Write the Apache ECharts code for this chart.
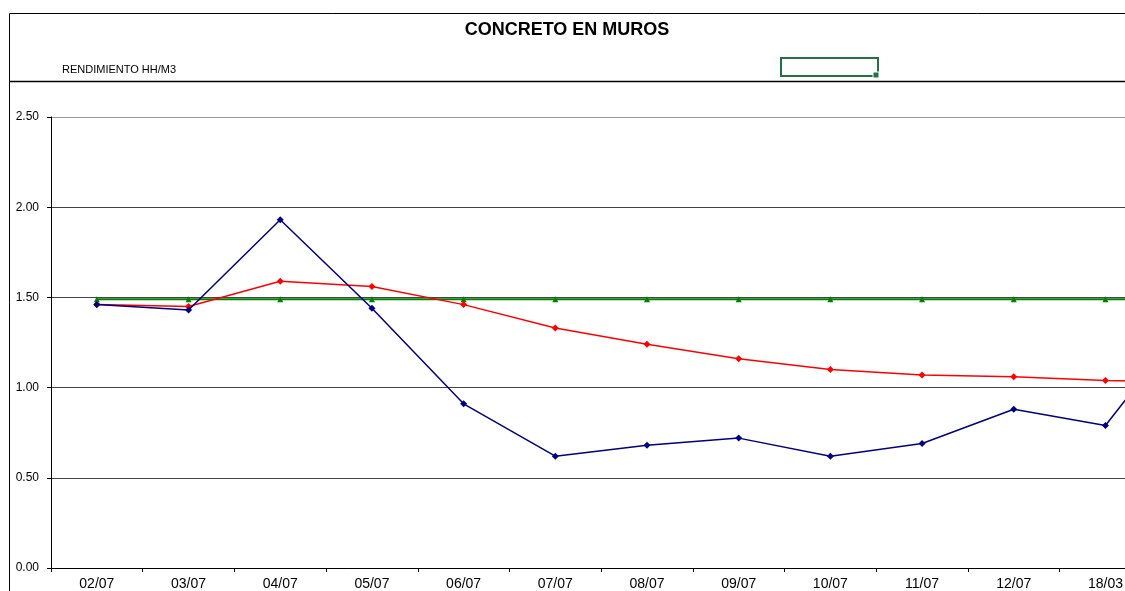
<!DOCTYPE html>
<html>
<head>
<meta charset="utf-8">
<title>CONCRETO EN MUROS</title>
<script src="https://cdn.jsdelivr.net/npm/echarts@6/dist/echarts.min.js"></script>
<style>
  html, body { margin: 0; padding: 0; background: #fff; overflow: hidden; }
  #chart { width: 1300px; height: 591px; }
</style>
</head>
<body>
<div id="chart"></div>
<script>
// Weekly dates shown along the category axis
const fechas = ['02/07', '03/07', '04/07', '05/07', '06/07', '07/07', '08/07', '09/07', '10/07', '11/07', '12/07', '18/03', '19/03'];
// Weekly performance HH/M3
const rendimientoSemanal = [1.46, 1.43, 1.93, 1.44, 0.91, 0.62, 0.68, 0.72, 0.62, 0.69, 0.88, 0.79, 1.44];
// Cumulative performance HH/M3
const rendimientoAcumulado = [1.46, 1.45, 1.59, 1.56, 1.46, 1.33, 1.24, 1.16, 1.10, 1.07, 1.06, 1.04, 1.03];
// Budgeted performance HH/M3
const rendimientoPresupuesto = [1.49, 1.49, 1.49, 1.49, 1.49, 1.49, 1.49, 1.49, 1.49, 1.49, 1.49, 1.49, 1.49];
// Value-axis ticks
const yMin = 0, yMax = 2.5, yStep = 0.5;

const chart = echarts.init(document.getElementById('chart'), null, { renderer: 'canvas' });

const font = 'Liberation Sans, Arial, sans-serif';

chart.setOption({
  animation: false,
  backgroundColor: '#ffffff',
  grid: { left: 51, top: 117, right: 57, bottom: 23, containLabel: false },
  graphic: [
    // sheet frame lines
    { type: 'line', shape: { x1: 9.5, y1: 13.5, x2: 1300, y2: 13.5 }, style: { stroke: '#000', lineWidth: 1 } },
    { type: 'line', shape: { x1: 9.5, y1: 13.5, x2: 9.5, y2: 591 }, style: { stroke: '#000', lineWidth: 1 } },
    { type: 'line', shape: { x1: 9.5, y1: 81.5, x2: 1300, y2: 81.5 }, style: { stroke: '#000', lineWidth: 1.5 } },
    // heading
    { type: 'text', style: { x: 567, y: 30, text: 'CONCRETO EN MUROS', font: 'bold 18px ' + font, fill: '#000', textAlign: 'center', textVerticalAlign: 'middle' } },
    { type: 'text', style: { x: 62, y: 70, text: 'RENDIMIENTO HH/M3', font: '11px ' + font, fill: '#000', textAlign: 'left', textVerticalAlign: 'middle' } },
    // active cell outline
    { type: 'rect', shape: { x: 781, y: 58, width: 97, height: 18 }, style: { fill: 'none', stroke: '#217346', lineWidth: 2 } },
    { type: 'rect', shape: { x: 873, y: 72, width: 6, height: 6 }, style: { fill: '#217346', stroke: '#fff', lineWidth: 1 } }
  ],
  xAxis: {
    type: 'category',
    data: fechas,
    boundaryGap: true,
    axisLine: { show: true, lineStyle: { color: '#000', width: 1 } },
    axisTick: { show: true, inside: false, length: 4, alignWithLabel: false, lineStyle: { color: '#000' } },
    axisLabel: { color: '#000', fontSize: 14, fontFamily: font, margin: 9, interval: 0 },
    splitLine: { show: false }
  },
  yAxis: {
    type: 'value',
    min: yMin,
    max: yMax,
    interval: yStep,
    axisLine: { show: true, lineStyle: { color: '#000', width: 1 } },
    axisTick: { show: true, inside: false, length: 4, lineStyle: { color: '#000' } },
    axisLabel: {
      color: '#000', fontSize: 12, fontFamily: font, margin: 12,
      formatter: v => v.toFixed(2)
    },
    splitLine: {
      show: true,
      lineStyle: { color: ['#444', '#444', '#444', '#444', '#444', '#999'], width: 1 }
    }
  },
  series: [
    {
      name: 'Presupuesto',
      type: 'line',
      data: rendimientoPresupuesto,
      symbol: 'triangle',
      symbolSize: 6,
      lineStyle: { color: '#008000', width: 2 },
      itemStyle: { color: '#008000' },
      z: 3
    },
    {
      name: 'Acumulado',
      type: 'line',
      data: rendimientoAcumulado,
      symbol: 'diamond',
      symbolSize: 7,
      lineStyle: { color: '#ff0000', width: 1.5 },
      itemStyle: { color: '#ff0000' },
      z: 4
    },
    {
      name: 'Semanal',
      type: 'line',
      data: rendimientoSemanal,
      symbol: 'diamond',
      symbolSize: 7,
      lineStyle: { color: '#000080', width: 1.5 },
      itemStyle: { color: '#000080' },
      z: 5
    }
  ]
});
</script>
</body>
</html>
